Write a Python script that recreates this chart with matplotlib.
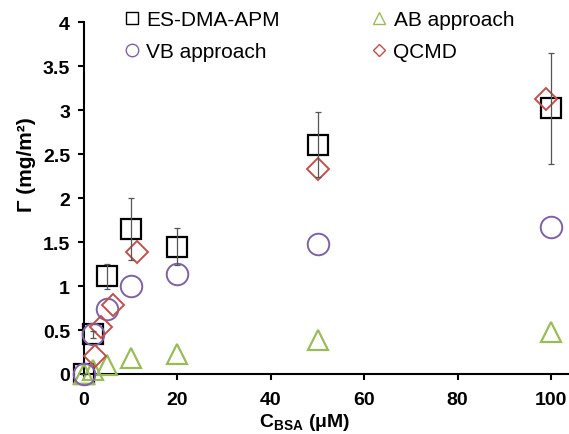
import matplotlib
matplotlib.use("Agg")
import matplotlib.pyplot as plt
from matplotlib.lines import Line2D

plt.rcParams['font.family'] = ['Liberation Sans', 'DejaVu Sans']
plt.rcParams['mathtext.fontset'] = 'custom'
plt.rcParams['mathtext.rm'] = 'Liberation Sans'
plt.rcParams['mathtext.bf'] = 'Liberation Sans:bold'

# Data
conc = [0, 2, 5, 10, 20, 50, 100]
es_dma = [0.0, 0.45, 1.11, 1.65, 1.45, 2.61, 3.02]
es_err = [0.0, 0.04, 0.14, 0.35, 0.21, 0.37, 0.63]
vb = [0.0, 0.46, 0.74, 1.00, 1.14, 1.48, 1.67]
ab = [0.0, 0.04, 0.10, 0.18, 0.23, 0.39, 0.48]
qcmd_conc = [2.3, 3.6, 6.3, 11.3, 50, 99]
qcmd = [0.20, 0.53, 0.79, 1.39, 2.33, 3.13]
series_names = ['ES-DMA-APM', 'VB approach', 'AB approach', 'QCMD']

W, H = 569, 435
fig = plt.figure(figsize=(W / 100, H / 100), dpi=100)
x0, x1 = 84, 569
y0, y1 = 375, 23.3
ax = fig.add_axes([x0 / W, 1 - y0 / H, (x1 - x0) / W, (y0 - y1) / H])

black = '#000000'
purple = '#7F62A6'
green = '#9BBB59'
red = '#C0504D'

ax.errorbar(conc, es_dma, yerr=es_err, fmt='none', ecolor='#555555',
            elinewidth=0.9, capsize=2.2, capthick=0.9, zorder=4, clip_on=False)
ax.plot(conc, es_dma, 's', ms=15, mfc='none', mec=black, mew=1.6,
        clip_on=False, zorder=3)
ax.plot(conc, ab, '^', ms=15, mfc='none', mec=green, mew=1.6,
        clip_on=False, zorder=3)
ax.plot(conc, vb, 'o', ms=15.5, mfc='none', mec=purple, mew=1.4,
        clip_on=False, zorder=3)
ax.plot(qcmd_conc, qcmd, 'D', ms=11.2, mfc='none', mec=red, mew=1.4,
        clip_on=False, zorder=3)

ax.set_xlim(0, (x1 - x0) / 4.67)
ax.set_ylim(0, 4)
ax.set_xticks([0, 20, 40, 60, 80, 100])
ax.set_yticks([0, 0.5, 1, 1.5, 2, 2.5, 3, 3.5, 4])
ax.set_yticklabels(['0', '0.5', '1', '1.5', '2', '2.5', '3', '3.5', '4'])

for s in ['top', 'right']:
    ax.spines[s].set_visible(False)
for s in ['left', 'bottom']:
    ax.spines[s].set_linewidth(1.5)
ax.tick_params(axis='both', direction='out', length=4, width=1.5,
               labelsize=14)
ax.tick_params(axis='x', pad=8)
ax.tick_params(axis='y', pad=6)
for lab in ax.get_xticklabels() + ax.get_yticklabels():
    lab.set_fontweight('bold')

handles = [
    Line2D([], [], ls='none', marker='s', ms=9, mfc='none', mec=black, mew=1.0),
    Line2D([], [], ls='none', marker='o', ms=9, mfc='none', mec=purple, mew=1.0),
    Line2D([], [], ls='none', marker='^', ms=9, mfc='none', mec=green, mew=1.0),
    Line2D([], [], ls='none', marker='D', ms=6.5, mfc='none', mec=red, mew=1.0),
]
leg = ax.legend(handles, series_names,
                ncol=2, loc='upper left', bbox_to_anchor=(113 / W, 1 - 1 / H),
                bbox_transform=fig.transFigure, frameon=False, fontsize=15,
                handlelength=0.8, handletextpad=0.3,
                columnspacing=4.35, labelspacing=0.6, borderpad=0)

fig.text(27 / W, 1 - 165 / H, 'Γ (mg/m²)', rotation=90, ha='center', va='center',
         fontsize=15, fontweight='bold')
fig.text(305 / W, 1 - 423 / H, r'$\mathbf{C}_{\mathbf{BSA}}$ (μM)', ha='center',
         va='center', fontsize=14, fontweight='bold')

fig.savefig('out.png', dpi=100)
